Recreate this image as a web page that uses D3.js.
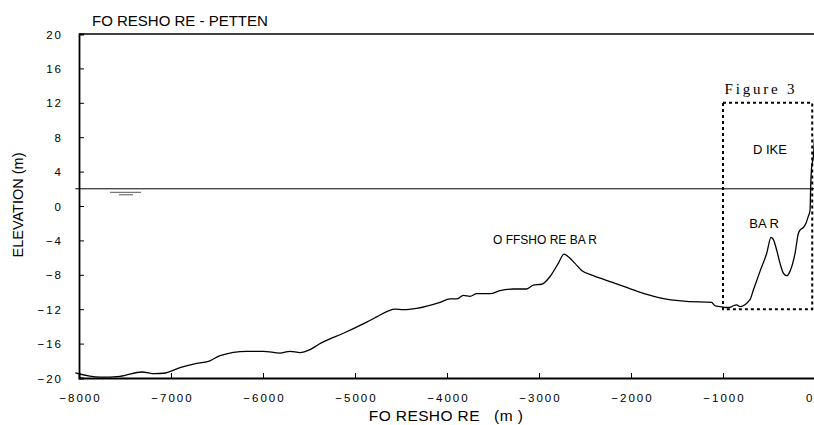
<!DOCTYPE html>
<html>
<head>
<meta charset="utf-8">
<script src="https://cdn.jsdelivr.net/npm/d3@7"></script>
<style>
  html, body { margin: 0; padding: 0; background: #fff; overflow: hidden; }
  svg { display: block; font-family: "Liberation Sans", Arial, sans-serif; }
</style>
</head>
<body>
<svg id="chart" width="814" height="425"></svg>
<script>
// ---- data ----
const profileX = [-8040, -7772, -7554, -7318, -7174, -7083, -6902, -6721, -6576, -6467, -6177, -5997, -5815, -5707, -5598, -5489, -5388, -5345, -5127, -4873, -4764, -4638, -4565, -4475, -4330, -4076, -3967, -3895, -3822, -3750, -3677, -3533, -3424, -3279, -3134, -3062, -2971, -2880, -2790, -2728, -2681, -2609, -2536, -2410, -2193, -1938, -1721, -1395, -1123, -1087, -1033, -969, -924, -888, -851, -815, -707, -670, -598, -525, -478, -453, -417, -380, -344, -308, -272, -217, -181, -163, -127, -98, -73, -54, -47, -36, -18, 0];
const profileY = [-19.4, -19.9, -19.8, -19.3, -19.5, -19.45, -18.8, -18.3, -18.0, -17.4, -16.9, -16.9, -17.1, -16.9, -17.05, -16.7, -16.05, -15.8, -14.8, -13.5, -12.9, -12.2, -12.0, -12.05, -11.9, -11.2, -10.8, -10.8, -10.4, -10.5, -10.2, -10.2, -9.85, -9.65, -9.65, -9.2, -9.1, -8.2, -6.67, -5.6, -5.9, -6.67, -7.5, -8.1, -8.9, -9.9, -10.6, -11.1, -11.2, -11.6, -11.7, -11.8, -11.8, -11.6, -11.5, -11.7, -10.9, -9.77, -7.6, -5.5, -3.64, -3.88, -5.1, -6.67, -7.8, -8.1, -7.6, -5.5, -3.2, -2.8, -2.5, -2.0, -1.2, -0.5, 2.2, 4.6, 5.7, 9];
const xTicks = [-8000, -7000, -6000, -5000, -4000, -3000, -2000, -1000, 0];
const yTicks = [-20, -16, -12, -8, -4, 0, 4, 8, 12, 16, 20];
const waterLevel = 2;
const waterLineX = [-8040, 0];
const waterSymbolX = [-7663, -7326];
const waterSymbolX2 = [-7565, -7413];
const boxX = [-1000, -30];
const boxY = [-12, 12];
const labels = [
  { text: "O FFSHO RE BA R", x: -2935, y: -4.4, size: 12 },
  { text: "BA R", x: -554, y: -2.56, size: 13 },
  { text: "D IKE", x: -490, y: 6.05, size: 13 }
];

// ---- chart ----
const svg = d3.select("#chart");
const x = d3.scaleLinear().domain([-8000, 0]).range([79, 815]);
const y = d3.scaleLinear().domain([-20, 20]).range([378, 34]);

// top border
svg.append("line").attr("x1", x(-8000)).attr("x2", 814).attr("y1", y(20)).attr("y2", y(20))
  .attr("stroke", "#000").attr("stroke-width", 1.5);

// axes
const yAxis = d3.axisRight(y).tickValues(yTicks).tickSize(5).tickFormat(d3.format("d"));
const gy = svg.append("g").attr("transform", `translate(${x(-8000)},0)`).call(yAxis);
gy.select(".domain").attr("stroke-width", 1.8);
gy.selectAll(".tick line").attr("stroke-width", 1);
gy.selectAll(".tick text").attr("x", -16).attr("text-anchor", "end")
  .style("font-size", "11.5px").style("letter-spacing", "2px")
  .attr("dy", "0.35em").attr("fill", "#000");
gy.selectAll(".tick").filter(d => d === 20).select("line").remove();

const xAxis = d3.axisTop(x).tickValues(xTicks).tickSize(5).tickFormat(d3.format("d"));
const gx = svg.append("g").attr("transform", `translate(0,${y(-20)})`).call(xAxis);
gx.select(".domain").attr("stroke-width", 1.8);
gx.selectAll(".tick line").attr("stroke-width", 1);
gx.selectAll(".tick text").attr("y", 24).attr("dy", 0)
  .style("font-size", "11.5px").style("letter-spacing", "2px").attr("fill", "#000")
  .attr("dx", "1px");
gx.selectAll(".tick").filter(d => d === -8000 || d === 0).select("line").remove();
gx.selectAll(".tick").filter(d => d === 0).select("text")
  .attr("text-anchor", "end").attr("dx", "-3px").style("letter-spacing", "0px");

// water level
svg.append("line").attr("x1", x(waterLineX[0])).attr("x2", x(waterLineX[1]))
  .attr("y1", y(waterLevel)).attr("y2", y(waterLevel))
  .attr("stroke", "#000").attr("stroke-width", 1);
svg.append("line").attr("x1", x(waterSymbolX[0])).attr("x2", x(waterSymbolX[1]))
  .attr("y1", y(waterLevel) + 3.5).attr("y2", y(waterLevel) + 3.5)
  .attr("stroke", "#555").attr("stroke-width", 1);
svg.append("line").attr("x1", x(waterSymbolX2[0])).attr("x2", x(waterSymbolX2[1]))
  .attr("y1", y(waterLevel) + 6).attr("y2", y(waterLevel) + 6)
  .attr("stroke", "#555").attr("stroke-width", 1);

// dotted box
svg.append("rect")
  .attr("x", x(boxX[0])).attr("y", y(boxY[1]))
  .attr("width", x(boxX[1]) - x(boxX[0])).attr("height", y(boxY[0]) - y(boxY[1]))
  .attr("fill", "none").attr("stroke", "#000").attr("stroke-width", 2)
  .attr("stroke-dasharray", "3,3");

// profile
const pts = profileX.map((d, i) => [d, profileY[i]]);
svg.append("path").datum(pts)
  .attr("d", d3.line().x(d => x(d[0])).y(d => y(d[1])).curve(d3.curveMonotoneX))
  .attr("fill", "none").attr("stroke", "#000").attr("stroke-width", 1.3);

// labels
svg.selectAll(".lbl").data(labels).enter().append("text")
  .attr("x", d => x(d.x)).attr("y", d => y(d.y))
  .attr("text-anchor", "middle").style("font-size", d => d.size + "px").text(d => d.text);

svg.append("text").attr("x", 761).attr("y", 94).attr("text-anchor", "middle")
  .style("font-family", "'Liberation Serif', 'Times New Roman', serif")
  .style("font-size", "15px").style("letter-spacing", "2.8px").text("Figure 3");

// title
svg.append("text").attr("x", 92).attr("y", 26).style("font-size", "15px").text("FO RESHO RE - PETTEN");

// axis titles
svg.append("text").attr("x", 446).attr("y", 421).attr("text-anchor", "middle")
  .style("font-size", "15.5px").style("letter-spacing", "0.4px")
  .style("white-space", "pre").attr("xml:space", "preserve")
  .text("FO RESHO RE   (m )");
svg.append("text").attr("transform", "translate(23,205) rotate(-90)").attr("text-anchor", "middle")
  .style("font-size", "14.5px").text("ELEVATION (m)");
</script>
</body>
</html>
